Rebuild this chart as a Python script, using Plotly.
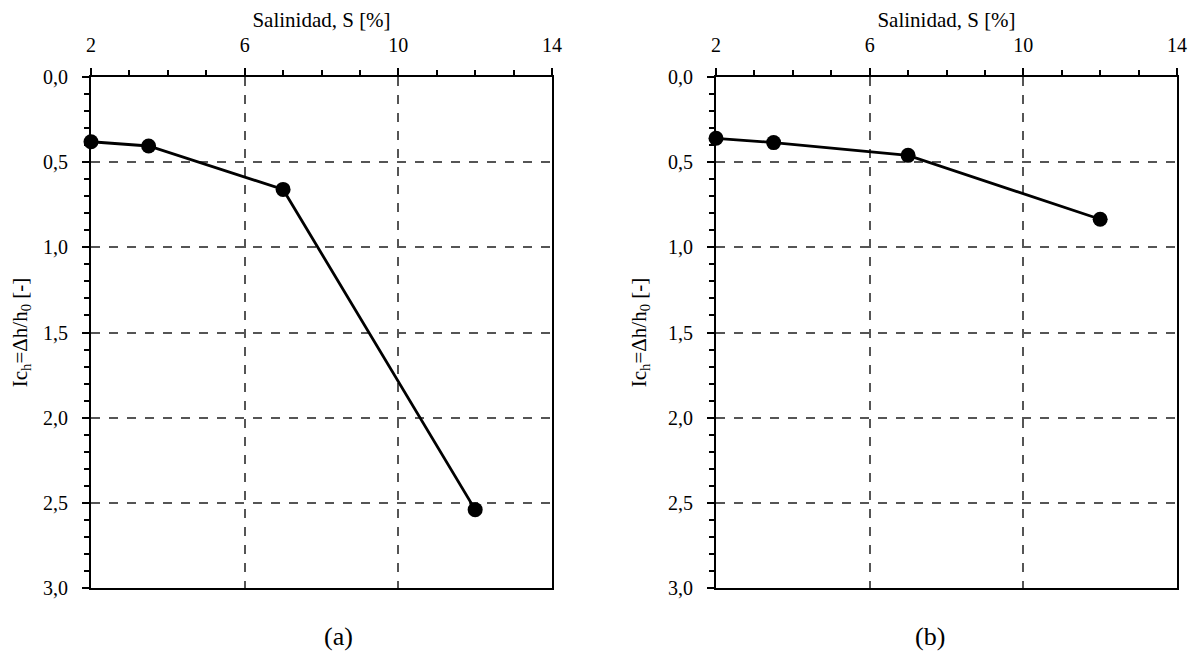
import plotly.graph_objects as go

salinity = [2, 3.5, 7, 12]
ic_a = [0.38, 0.405, 0.66, 2.54]
ic_b = [0.36, 0.385, 0.46, 0.835]
x_ticks = [2, 6, 10, 14]
y_ticks = [0.0, 0.5, 1.0, 1.5, 2.0, 2.5, 3.0]
captions = ["(a)", "(b)"]

FONT = "'Liberation Serif', 'Times New Roman', Times, serif"

OFF = 8  # page body margin
W, H = 1197 - 2 * OFF, 662 - 2 * OFF


def px(v):
    return (v - OFF) / W


def py(v):
    return 1 - (v - OFF) / H


fig = go.Figure()

doms_x = [[px(91), px(552)], [px(716), px(1177)]]
dom_y = [py(588), py(77)]

for i, ys in enumerate([ic_a, ic_b]):
    sfx = "" if i == 0 else "2"
    fig.add_trace(go.Scatter(
        x=salinity, y=ys, mode="lines+markers",
        line=dict(color="black", width=2.8),
        marker=dict(color="black", size=15),
        cliponaxis=False, showlegend=False,
        xaxis="x" + sfx, yaxis="y" + sfx))

axis_common = dict(
    showline=True, linecolor="black", linewidth=2, mirror=True,
    showgrid=True, gridcolor="#555555", griddash="dash", gridwidth=1.5,
    zeroline=False, ticks="outside", ticklen=7, tickwidth=2, tickcolor="black",
    tickfont=dict(family=FONT, size=20, color="black"),
    automargin=False,
)

layout = dict(
    template="none",
    width=W, height=H, margin=dict(l=0, r=0, t=0, b=0),
    plot_bgcolor="white", paper_bgcolor="white", separators=",.",
    font=dict(family=FONT, color="black", size=20),
)

for i in range(2):
    sfx = "" if i == 0 else "2"
    layout["xaxis" + sfx] = dict(
        axis_common, domain=doms_x[i], range=[2, 14], side="top",
        tickvals=x_ticks, ticktext=[str(v) for v in x_ticks],
        ticklabelstandoff=8,
        minor=dict(dtick=1, tick0=2, ticks="outside", ticklen=5, tickwidth=2,
                   tickcolor="black", showgrid=False),
        title=dict(text="Salinidad, S [%]", font=dict(family=FONT, size=21),
                   standoff=2),
        anchor="y" + sfx,
    )
    layout["yaxis" + sfx] = dict(
        axis_common, domain=dom_y, range=[3, 0],
        tickvals=y_ticks, tickformat=".1f",
        ticklabelstandoff=10,
        minor=dict(dtick=0.1, tick0=0, ticks="outside", ticklen=5, tickwidth=2,
                   tickcolor="black", showgrid=False),
        title=dict(text="Ic<sub>h</sub>=Δh/h<sub>0</sub> [-]",
                   font=dict(family=FONT, size=21), standoff=16),
        anchor="x" + sfx,
    )

fig.update_layout(**layout)

for i, cap in enumerate(captions):
    fig.add_annotation(
        text=cap, x=(doms_x[i][0] + doms_x[i][1]) / 2, y=py(636),
        xref="paper", yref="paper", showarrow=False, yanchor="middle",
        font=dict(family=FONT, size=26, color="black"))

fig.write_html("out.html")
